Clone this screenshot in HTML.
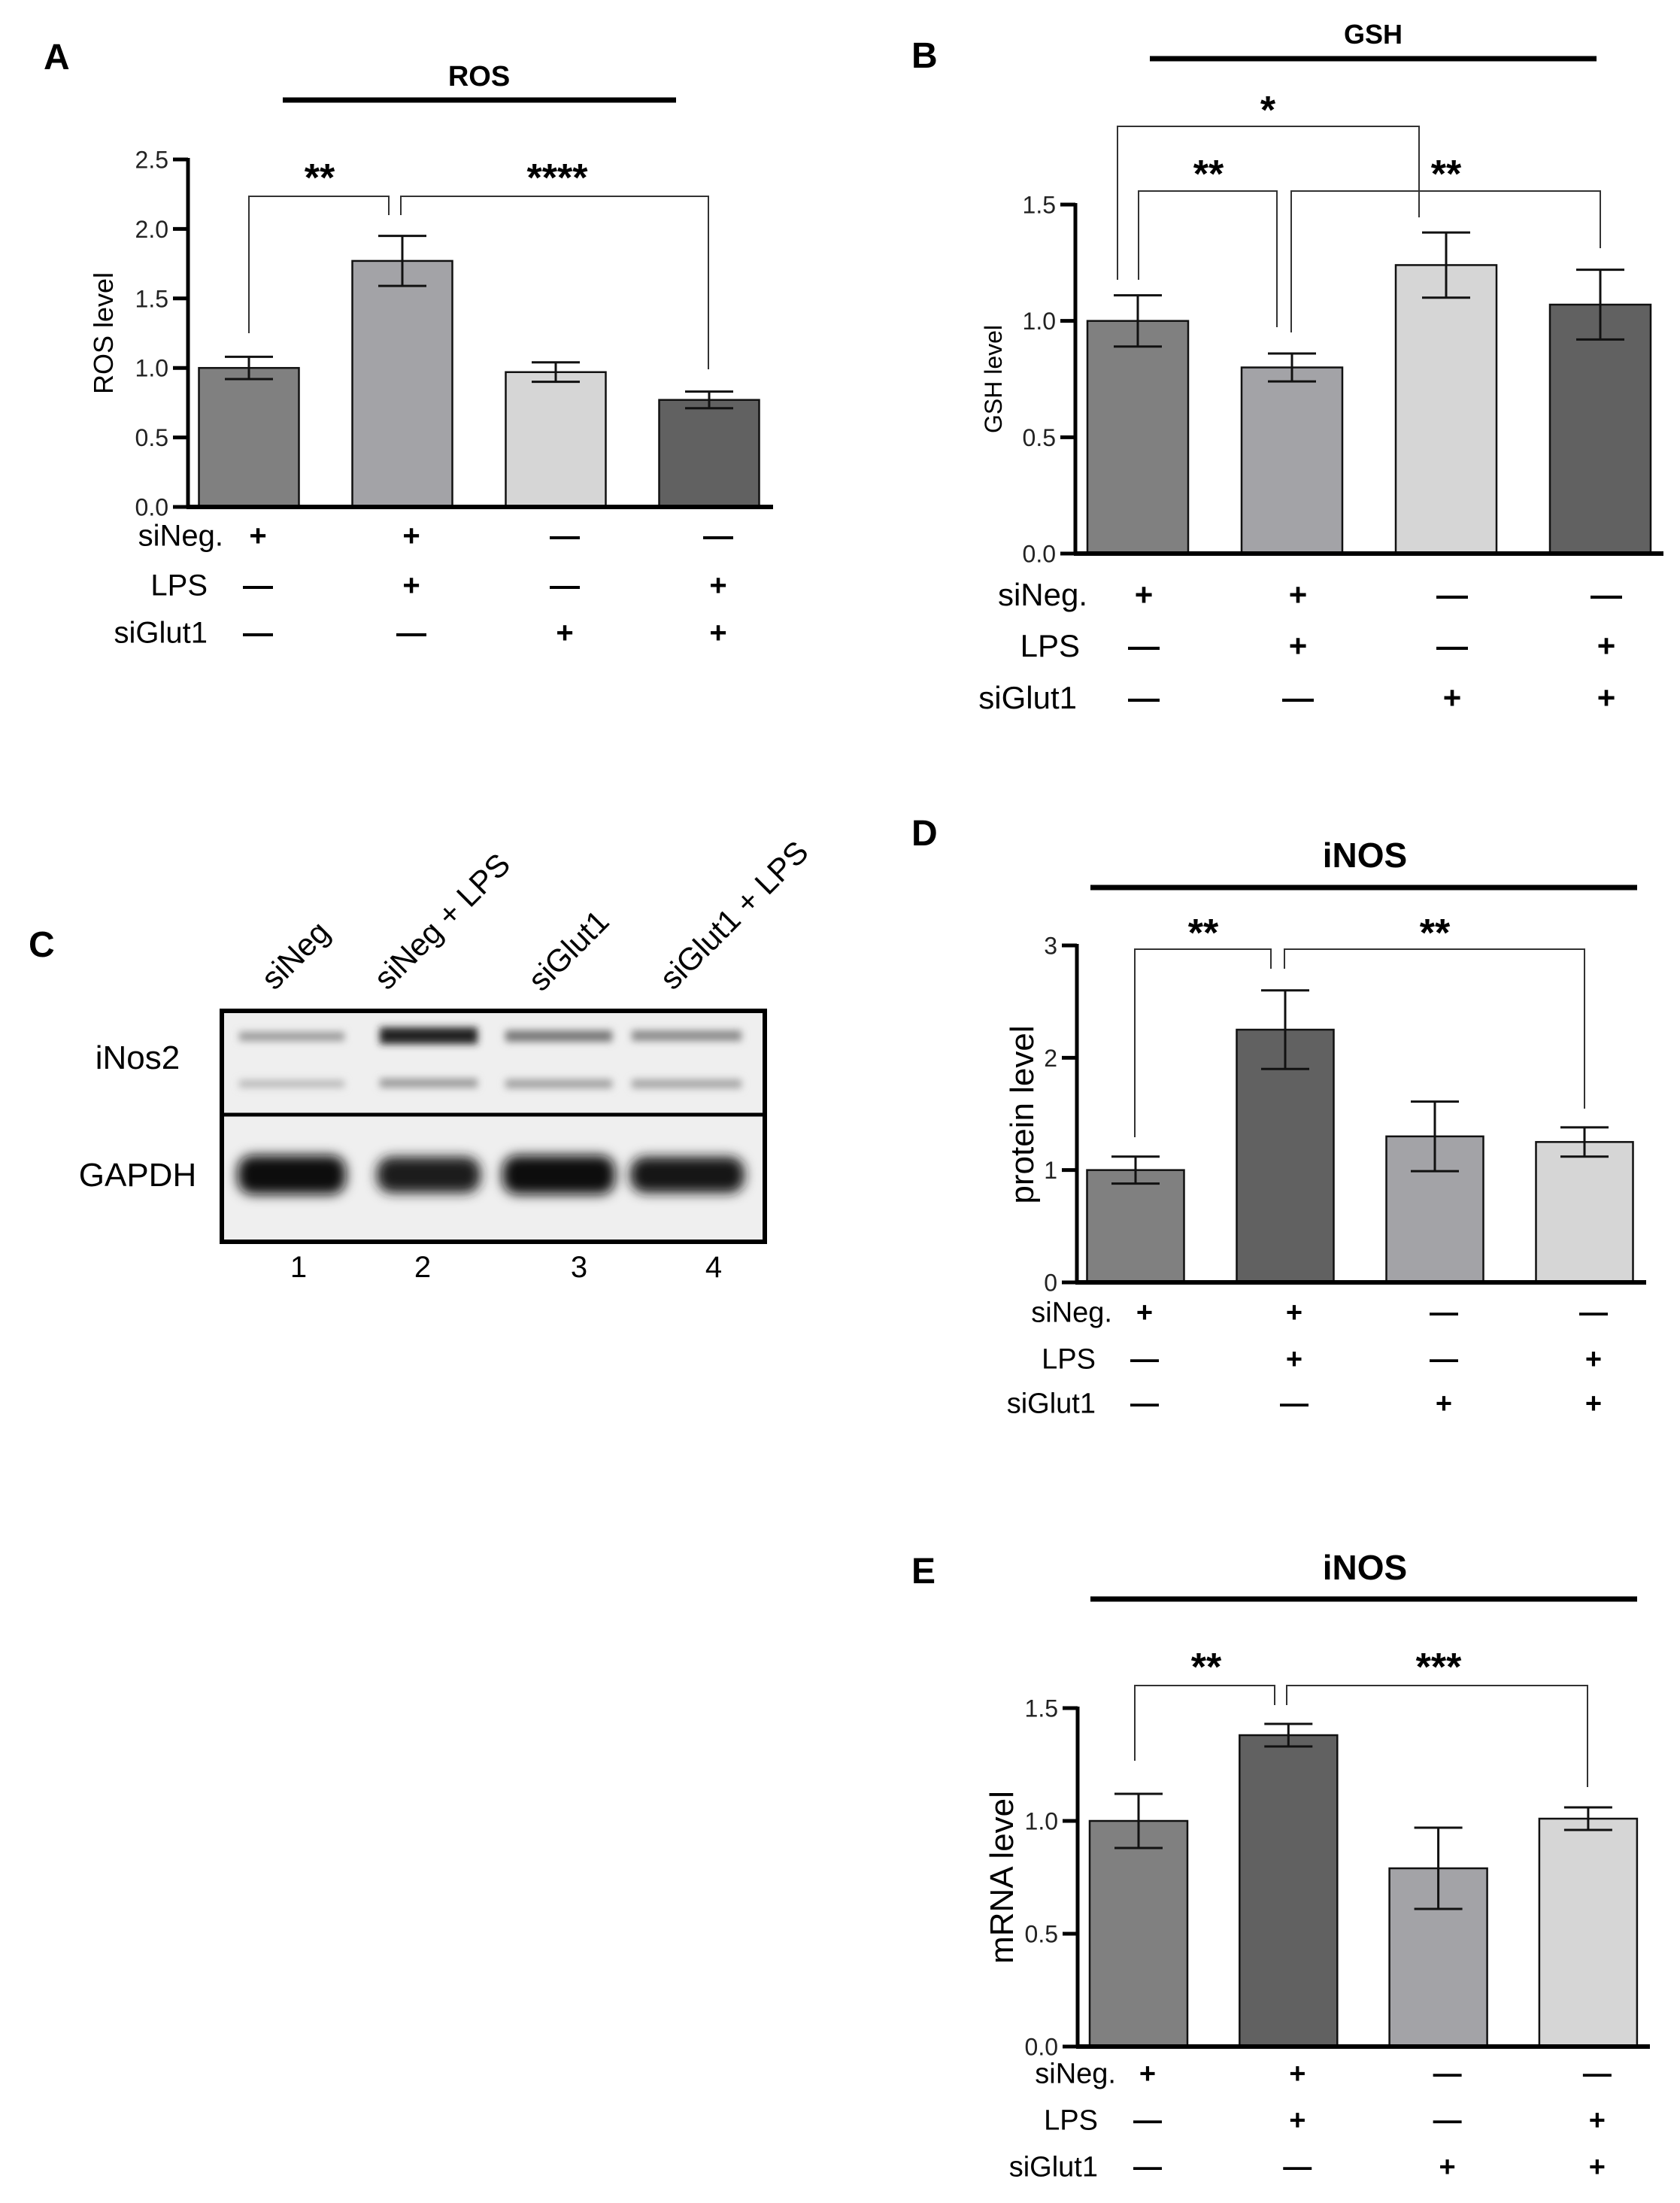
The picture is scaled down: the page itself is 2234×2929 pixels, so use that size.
<!DOCTYPE html>
<html><head><meta charset="utf-8"><style>
html,body{margin:0;padding:0;background:#fff;}
svg{display:block;font-family:"Liberation Sans",Arial,sans-serif;}
</style></head><body>
<svg id="fig" width="2234" height="2929" viewBox="0 0 2234 2929" xmlns="http://www.w3.org/2000/svg">
<defs>
<filter id="blur" x="-20%" y="-50%" width="140%" height="200%"><feGaussianBlur stdDeviation="8"/></filter>
<filter id="blur2" x="-20%" y="-50%" width="140%" height="200%"><feGaussianBlur stdDeviation="5"/></filter>
</defs>
<g>
<text x="38" y="1272" font-size="48" font-weight="bold">C</text>
<rect x="292" y="1341" width="728" height="313" fill="#efefef"/>
<g filter="url(#blur2)">
<rect x="318" y="1372" width="140" height="12" fill="#9a9a9a"/>
<rect x="505" y="1366" width="130" height="22" fill="#202020"/>
<rect x="672" y="1370" width="142" height="15" fill="#777"/>
<rect x="840" y="1370" width="146" height="14" fill="#8a8a8a"/>
<rect x="318" y="1436" width="140" height="10" fill="#b8b8b8"/>
<rect x="505" y="1434" width="130" height="12" fill="#999"/>
<rect x="672" y="1435" width="142" height="12" fill="#a0a0a0"/>
<rect x="840" y="1435" width="146" height="12" fill="#a5a5a5"/>
</g>
<g filter="url(#blur)">
<rect x="316" y="1536" width="144" height="52" rx="20" fill="#111"/>
<rect x="501" y="1538" width="138" height="48" rx="20" fill="#1a1a1a"/>
<rect x="668" y="1536" width="150" height="52" rx="20" fill="#111"/>
<rect x="838" y="1538" width="152" height="48" rx="20" fill="#151515"/>
</g>
<rect x="295" y="1344" width="722" height="307" fill="none" stroke="#000" stroke-width="6"/>
<line x1="292" y1="1482" x2="1020" y2="1482" stroke="#000" stroke-width="5"/>
<text x="183" y="1421" font-size="44" text-anchor="middle">iNos2</text>
<text x="183" y="1577" font-size="44" text-anchor="middle">GAPDH</text>
<text transform="translate(365,1318) rotate(-45)" font-size="42">siNeg</text>
<text transform="translate(515,1318) rotate(-45)" font-size="42">siNeg + LPS</text>
<text transform="translate(720,1320) rotate(-45)" font-size="42">siGlut1</text>
<text transform="translate(895,1318) rotate(-45)" font-size="42">siGlut1 + LPS</text>
<text x="397" y="1698" font-size="40" text-anchor="middle">1</text>
<text x="562" y="1698" font-size="40" text-anchor="middle">2</text>
<text x="770" y="1698" font-size="40" text-anchor="middle">3</text>
<text x="949" y="1698" font-size="40" text-anchor="middle">4</text>
</g>
</svg>
<script>
const groups = ["siNeg", "siNeg+LPS", "siGlut1", "siGlut1+LPS"];
const rowNames = ["siNeg.", "LPS", "siGlut1"];
const rowSigns = [["+","+","—","—"],["—","+","—","+"],["—","—","+","+"]];
const rosValues = [1.0, 1.77, 0.97, 0.77];
const rosErrors = [0.08, 0.18, 0.07, 0.06];
const rosTicks = [0, 0.5, 1.0, 1.5, 2.0, 2.5];
const rosTickLabels = ["0.0","0.5","1.0","1.5","2.0","2.5"];
const gshValues = [1.0, 0.80, 1.24, 1.07];
const gshErrors = [0.11, 0.06, 0.14, 0.15];
const gshTicks = [0, 0.5, 1.0, 1.5];
const gshTickLabels = ["0.0","0.5","1.0","1.5"];
const proteinValues = [1.0, 2.25, 1.30, 1.25];
const proteinErrors = [0.12, 0.35, 0.31, 0.13];
const proteinTicks = [0, 1, 2, 3];
const proteinTickLabels = ["0","1","2","3"];
const mrnaValues = [1.0, 1.38, 0.79, 1.01];
const mrnaErrors = [0.12, 0.05, 0.18, 0.05];
const mrnaTicks = [0, 0.5, 1.0, 1.5];
const mrnaTickLabels = ["0.0","0.5","1.0","1.5"];

const NS = "http://www.w3.org/2000/svg";
const svg = document.getElementById("fig");
function mk(parent, tag, attrs, txt) {
  const e = document.createElementNS(NS, tag);
  for (const k in attrs) e.setAttribute(k, attrs[k]);
  if (txt !== undefined) e.textContent = txt;
  parent.appendChild(e);
  return e;
}

function drawPanel(c) {
  const g = mk(svg, "g", {});
  
  
  const yScale = v => c.y0 - (v - c.vMin) / (c.vMax - c.vMin) * (c.y0 - c.yTop);
  const xScale = i => c.c0 + i * c.step;

  const letter = mk(g, "text", {x: c.letterX, y: c.letterY, "font-size": 48, "font-weight": "bold"}, c.letter);
  
  
  const title = mk(g, "text", {x: c.titleX, y: c.titleY, "font-size": c.titleSize, "font-weight": "bold", "text-anchor": "middle"}, c.title);
  
  
  const tl = mk(g, "line", {x1: c.lineX1, x2: c.lineX2, y1: c.lineY, y2: c.lineY, stroke: "#000", "stroke-width": 7});
  
  

  c.values.forEach((v, i) => {
    const cx = xScale(i);
    const b = mk(g, "rect", {x: cx - c.barW / 2, y: yScale(v), width: c.barW, height: c.y0 - yScale(v), fill: c.fills[i], stroke: "#111", "stroke-width": 2.5});
    
    
    const hi = yScale(v + c.errs[i]), lo = yScale(v - c.errs[i]);
    const eb = mk(g, "path", {d: `M${cx},${hi}V${lo}M${cx-32},${hi}H${cx+32}M${cx-32},${lo}H${cx+32}`, stroke: "#111", "stroke-width": 3, fill: "none"});
    
    
  });

  const ya = mk(g, "line", {x1: c.ax, x2: c.ax, y1: c.yTop - 2, y2: c.y0 + 2, stroke: "#000", "stroke-width": 5});
  
  
  const xa = mk(g, "line", {x1: c.ax - 2, x2: c.xEnd, y1: c.y0, y2: c.y0, stroke: "#000", "stroke-width": 6});
  
  
  c.ticks.forEach((t, i) => {
    const y = yScale(t);
    const tk = mk(g, "line", {x1: c.ax - 20, x2: c.ax, y1: y, y2: y, stroke: "#000", "stroke-width": 5});
    
    
    const lb = mk(g, "text", {x: c.ax - 26, y: y + c.tickSize * 0.36, "font-size": c.tickSize, "text-anchor": "end", fill: "#222"}, c.tickLabels[i]);
    
    
  });
  const yt = mk(g, "text", {transform: `translate(${c.ytX},${c.ytY}) rotate(-90)`, "font-size": c.ytSize, "text-anchor": "middle"}, c.ytitle);
  
  

  c.brackets.forEach(br => {
    const p = mk(g, "path", {d: `M${br.x1},${br.d1}V${br.y}H${br.x2}V${br.d2}`, stroke: "#333", "stroke-width": 2, fill: "none"});
    
    
    const s = mk(g, "text", {x: br.lx, y: br.ly, "font-size": 52, "font-weight": "bold", "text-anchor": "middle"}, br.label);
    
    
  });

  rowNames.forEach((n, r) => {
    const y = c.rowsY[r];
    const lab = mk(g, "text", {x: c.rowLabelX[r], y: y + c.rowSize * 0.36, "font-size": c.rowSize, "text-anchor": "end"}, n);
    
    
    rowSigns[r].forEach((s, i) => {
      const sx = xScale(i) + c.signDx;
      const t = mk(g, "text", {x: sx, y: y + c.rowSize * 0.36, "font-size": c.rowSize, "font-weight": "bold", "text-anchor": "middle"}, s);
      
      
    });
  });
}

const fillsAB = ["#808080", "#a3a3a7", "#d6d6d6", "#616161"];
const fillsDE = ["#808080", "#616161", "#a3a3a7", "#d6d6d6"];

drawPanel({id: "panel-a-ros", letter: "A", letterX: 58, letterY: 92, title: "ROS", titleX: 637, titleY: 114, titleSize: 38,
  lineX1: 376, lineX2: 899, lineY: 133, values: rosValues, errs: rosErrors, fills: fillsAB,
  vMin: 0, vMax: 2.5, y0: 674, yTop: 212, ax: 250, xEnd: 1028, c0: 331, step: 204, barW: 133,
  ticks: rosTicks, tickLabels: rosTickLabels, tickSize: 32, ytitle: "ROS level", ytX: 150, ytY: 443, ytSize: 36,
  brackets: [{x1: 331, x2: 517, y: 261, d1: 443, d2: 286, label: "**", lx: 425, ly: 254},
             {x1: 533, x2: 942, y: 261, d1: 286, d2: 491, label: "****", lx: 741, ly: 254}],
  rowsY: [711, 777, 840], rowLabelX: [297, 276, 276], rowSize: 40, signDx: 12});

drawPanel({id: "panel-b-gsh", letter: "B", letterX: 1212, letterY: 90, title: "GSH", titleX: 1826, titleY: 58, titleSize: 36,
  lineX1: 1529, lineX2: 2123, lineY: 78, values: gshValues, errs: gshErrors, fills: fillsAB,
  vMin: 0, vMax: 1.5, y0: 736, yTop: 272, ax: 1430, xEnd: 2212, c0: 1513, step: 205, barW: 134,
  ticks: gshTicks, tickLabels: gshTickLabels, tickSize: 32, ytitle: "GSH level", ytX: 1332, ytY: 504, ytSize: 32,
  brackets: [{x1: 1486, x2: 1887, y: 168, d1: 372, d2: 289, label: "*", lx: 1686, ly: 164},
             {x1: 1514, x2: 1698, y: 254, d1: 372, d2: 435, label: "**", lx: 1607, ly: 249},
             {x1: 1717, x2: 2128, y: 254, d1: 442, d2: 330, label: "**", lx: 1923, ly: 249}],
  rowsY: [790, 858, 927], rowLabelX: [1446, 1436, 1432], rowSize: 42, signDx: 8});

drawPanel({id: "panel-d-inos-protein", letter: "D", letterX: 1212, letterY: 1124, title: "iNOS", titleX: 1815, titleY: 1153, titleSize: 46,
  lineX1: 1450, lineX2: 2177, lineY: 1180, values: proteinValues, errs: proteinErrors, fills: fillsDE,
  vMin: 0, vMax: 3, y0: 1705, yTop: 1257, ax: 1432, xEnd: 2189, c0: 1510, step: 199, barW: 129,
  ticks: proteinTicks, tickLabels: proteinTickLabels, tickSize: 32, ytitle: "protein level", ytX: 1374, ytY: 1482, ytSize: 44,
  brackets: [{x1: 1509, x2: 1690, y: 1262, d1: 1512, d2: 1288, label: "**", lx: 1600, ly: 1258},
             {x1: 1708, x2: 2107, y: 1262, d1: 1288, d2: 1474, label: "**", lx: 1908, ly: 1258}],
  rowsY: [1744, 1806, 1865], rowLabelX: [1479, 1457, 1457], rowSize: 38, signDx: 12});

drawPanel({id: "panel-e-inos-mrna", letter: "E", letterX: 1212, letterY: 2105, title: "iNOS", titleX: 1815, titleY: 2100, titleSize: 46,
  lineX1: 1450, lineX2: 2177, lineY: 2126, values: mrnaValues, errs: mrnaErrors, fills: fillsDE,
  vMin: 0, vMax: 1.5, y0: 2721, yTop: 2271, ax: 1433, xEnd: 2194, c0: 1514, step: 199.3, barW: 130,
  ticks: mrnaTicks, tickLabels: mrnaTickLabels, tickSize: 32, ytitle: "mRNA level", ytX: 1347, ytY: 2496, ytSize: 44,
  brackets: [{x1: 1509, x2: 1695, y: 2241, d1: 2341, d2: 2267, label: "**", lx: 1604, ly: 2234},
             {x1: 1711, x2: 2111, y: 2241, d1: 2267, d2: 2376, label: "***", lx: 1913, ly: 2234}],
  rowsY: [2756, 2818, 2880], rowLabelX: [1484, 1460, 1460], rowSize: 38, signDx: 12});
</script>
</body></html>
